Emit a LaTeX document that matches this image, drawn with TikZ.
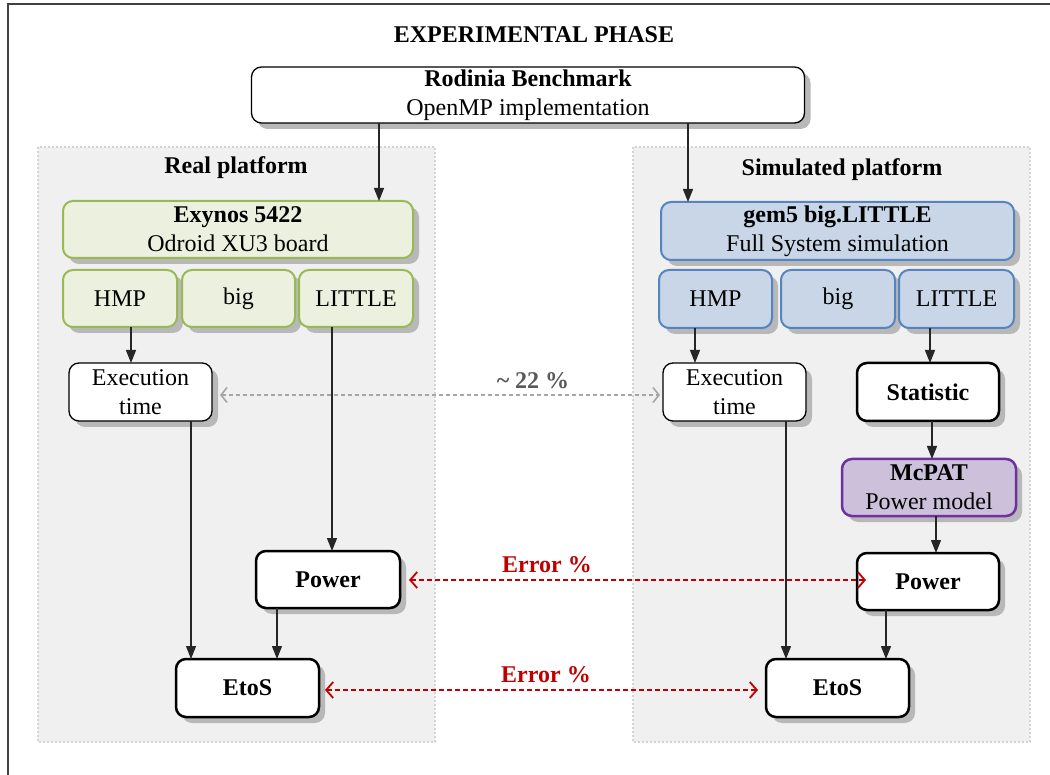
\documentclass[tikz,border=0pt]{standalone}
\usepackage{fontspec}
\setmainfont{Liberation Serif}
\usetikzlibrary{arrows.meta}

\definecolor{framegray}{HTML}{404040}
\definecolor{panelfill}{HTML}{F0F0F0}
\definecolor{panelline}{HTML}{D4D4D4}
\definecolor{shadefill}{HTML}{B8B8B8}
\definecolor{greenfill}{HTML}{EBF1DE}
\definecolor{greenline}{HTML}{98B954}
\definecolor{bluefill}{HTML}{C8D6E7}
\definecolor{blueline}{HTML}{5585C0}
\definecolor{purplefill}{HTML}{CCC0DA}
\definecolor{purpleline}{HTML}{7030A0}
\definecolor{errred}{HTML}{C00000}
\definecolor{cmpgray}{HTML}{A6A6A6}
\definecolor{cmptext}{HTML}{595959}

\tikzset{
  box/.style={draw, rounded corners=10pt, align=center, fill=white, line width=1.3pt,
    inner sep=2pt, outer sep=0pt},
  strongbox/.style={box, line width=2.5pt, font=\fontsize{24}{29}\selectfont\bfseries},
  greenbox/.style={box, fill=greenfill, draw=greenline, line width=2pt},
  bluebox/.style={box, fill=bluefill, draw=blueline, line width=2pt},
  purplebox/.style={box, fill=purplefill, draw=purpleline, line width=2.5pt},
  panel/.style={fill=panelfill, draw=panelline, line width=1.5pt, dash pattern=on 2pt off 2pt},
  boxshade/.style={fill=shadefill, rounded corners=10pt},
  head/.style={font=\fontsize{24}{29}\selectfont\bfseries},
  arr/.style={-{Triangle[length=13pt,width=10pt]}, line width=1.2pt, draw=black!85},
  errarr/.style={{Straight Barb[length=7pt,width=16pt]}-{Straight Barb[length=7pt,width=16pt]},
    draw=errred, line width=1.8pt, dash pattern=on 5pt off 3pt},
  cmparr/.style={{Straight Barb[length=6pt,width=15pt]}-{Straight Barb[length=6pt,width=15pt]},
    draw=cmpgray, line width=1.6pt, dash pattern=on 4pt off 3pt},
  errlabel/.style={head, text=errred},
}

% box with its shadow: #1 style, #2 name, #3 centre, #4 width, #5 height
\newcommand{\shadedbox}[6]{%
  \fill[boxshade] ($(#3)+(-#4/2+6,-#5/2+6)$) rectangle ($(#3)+(#4/2+6,#5/2+6)$);
  \node[#1, minimum width=#4pt, minimum height=#5pt] (#2) at (#3) {#6};}

\usetikzlibrary{calc}

\begin{document}
\begin{tikzpicture}[x=1pt, y=-1pt, font=\fontsize{24}{29}\selectfont]
\useasboundingbox (0,0) rectangle (1050,775);
\draw[framegray, line width=2pt] (8,775) -- (8,4) -- (1050,4);

% platforms
\draw[panel] (38,147) rectangle (435,742);
\draw[panel] (633,147) rectangle (1030,742);

\node[head] (title) at (534,35) {EXPERIMENTAL PHASE};
\shadedbox{box}{rodinia}{528,95}{553}{56}{\textbf{Rodinia Benchmark}\\OpenMP implementation}

\node[head] (realhd) at (236,168) {Real platform};
\node[head] (simhd) at (842,170) {Simulated platform};

% real platform
\shadedbox{greenbox}{exynos}{238,229.5}{350}{57}{\textbf{Exynos 5422}\\Odroid XU3 board}
\shadedbox{greenbox}{hmpL}{120,298.5}{114}{57}{HMP}
\shadedbox{greenbox}{bigL}{238.5,298.5}{113}{57}{big}
\shadedbox{greenbox}{littleL}{356,298.5}{114}{57}{LITTLE}
\shadedbox{box}{execL}{140.5,392}{143}{58}{Execution\\time}
\shadedbox{strongbox}{powerL}{328,579.5}{144}{57}{Power}
\shadedbox{strongbox}{etosL}{247.5,688}{143}{58}{EtoS}

% simulated platform
\shadedbox{bluebox}{gem5}{837.5,231}{353}{58}{\textbf{gem5 big.LITTLE}\\Full System simulation}
\shadedbox{bluebox}{hmpR}{715.5,299}{113}{58}{HMP}
\shadedbox{bluebox}{bigR}{838,299}{114}{58}{big}
\shadedbox{bluebox}{littleR}{956.5,299}{115}{58}{LITTLE}
\shadedbox{box}{execR}{734.5,392}{143}{58}{Execution\\time}
\shadedbox{strongbox}{stat}{928,392}{142}{58}{Statistic}
\shadedbox{purplebox}{mcpat}{929,487.5}{174}{57}{\textbf{McPAT}\\Power model}
\shadedbox{strongbox}{powerR}{928,581.5}{142}{57}{Power}
\shadedbox{strongbox}{etosR}{837.5,688}{143}{58}{EtoS}

% flow
\draw[arr] (379,0 |- rodinia.south) -- (379,0 |- exynos.north);
\draw[arr] (688,0 |- rodinia.south) -- (688,0 |- gem5.north);
\draw[arr] (131,0 |- hmpL.south) -- (131,0 |- execL.north);
\draw[arr] (332,0 |- littleL.south) -- (332,0 |- powerL.north);
\draw[arr] (191,0 |- execL.south) -- (191,0 |- etosL.north);
\draw[arr] (277,0 |- powerL.south) -- (277,0 |- etosL.north);
\draw[arr] (695,0 |- hmpR.south) -- (695,0 |- execR.north);
\draw[arr] (930,0 |- littleR.south) -- (930,0 |- stat.north);
\draw[arr] (932,0 |- stat.south) -- (932,0 |- mcpat.north);
\draw[arr] (936,0 |- mcpat.south) -- (936,0 |- powerR.north);
\draw[arr] (786,0 |- execR.south) -- (786,0 |- etosR.north);
\draw[arr] (886,0 |- powerR.south) -- (886,0 |- etosR.north);

% comparisons
\draw[cmparr] ([xshift=8pt,yshift=-3pt]execL.east) -- ([xshift=-3pt,yshift=-3pt]execR.west);
\node[head, text=cmptext] (cmplabel) at (533,381) {\textasciitilde{} 22 \%};
\draw[errarr] ([xshift=9pt,yshift=-0.5pt]powerL.east) -- ([xshift=9pt,yshift=-0.5pt]powerL.east -| powerR.west);
\node[errlabel] (errpower) at (547,565) {Error \%};
\draw[errarr] ([xshift=6pt,yshift=-2pt]etosL.east) -- ([xshift=-8pt,yshift=-2pt]etosR.west);
\node[errlabel] (erretos) at (546,675) {Error \%};
\end{tikzpicture}
\end{document}
